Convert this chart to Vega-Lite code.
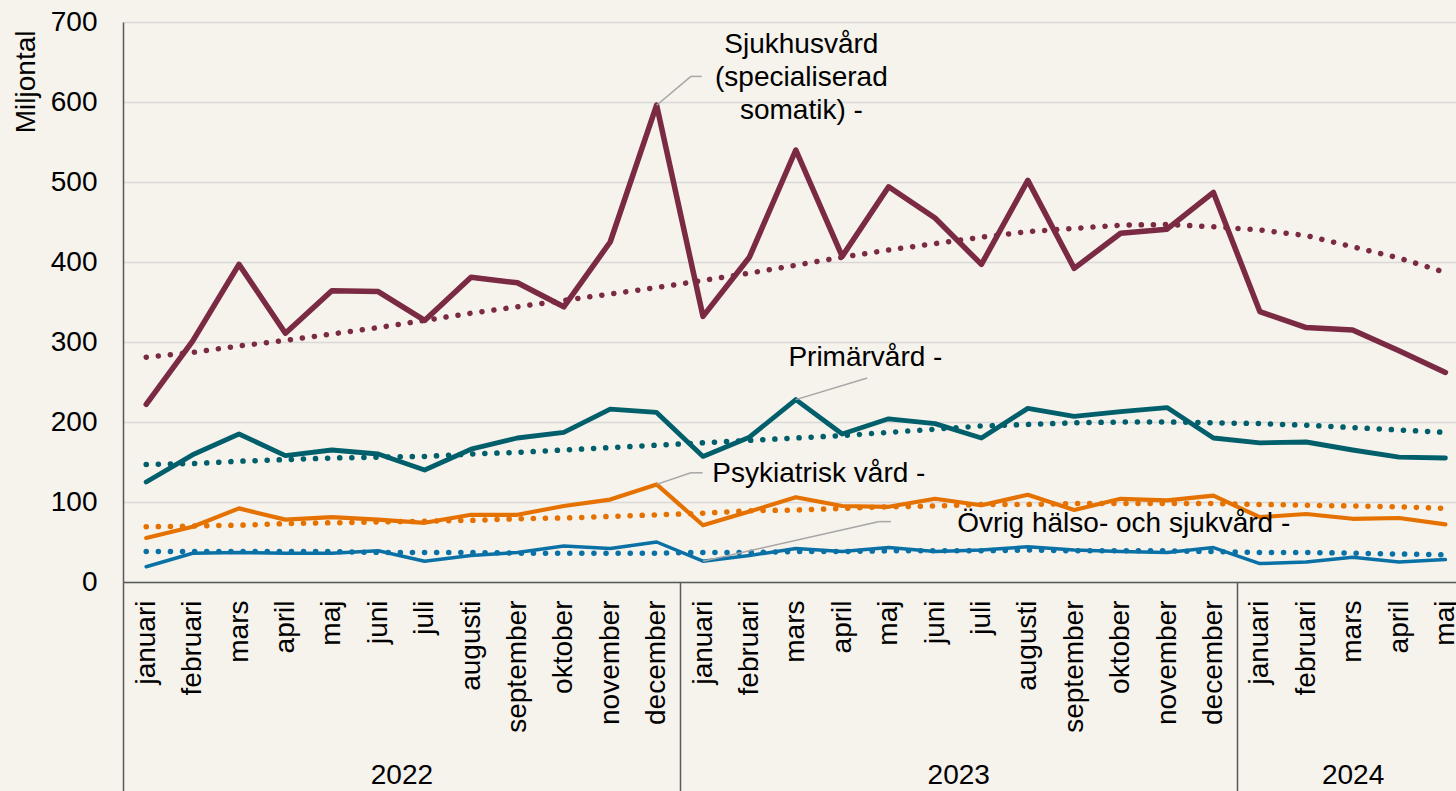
{
  "$schema": "https://vega.github.io/schema/vega-lite/v6.json",
  "autosize": {"type": "none"},
  "padding": {"left": 123, "top": 22, "right": 0, "bottom": 209},
  "width": 1333,
  "height": 560,
  "background": "#F6F2EC",
  "config": {
    "view": {"stroke": null},
    "font": "Liberation Sans",
    "axis": {"labelFont": "Liberation Sans", "titleFont": "Liberation Sans", "labelColor": "#000000", "titleColor": "#000000"}
  },
  "datasets": {
    "manader": [
      {"i": 0, "sjuk": 222, "prim": 125, "psyk": 55, "ovr": 19, "sjukT": 281, "primT": 147, "psykT": 69, "ovrT": 38},
      {"i": 1, "sjuk": 301, "prim": 159, "psyk": 69, "ovr": 36, "sjukT": 287, "primT": 148, "psykT": 70, "ovrT": 38},
      {"i": 2, "sjuk": 397, "prim": 185, "psyk": 92, "ovr": 37, "sjukT": 295, "primT": 151, "psykT": 71, "ovrT": 38},
      {"i": 3, "sjuk": 311, "prim": 158, "psyk": 78, "ovr": 36, "sjukT": 302, "primT": 153, "psykT": 73, "ovrT": 38},
      {"i": 4, "sjuk": 364, "prim": 165, "psyk": 81, "ovr": 36, "sjukT": 310, "primT": 155, "psykT": 74, "ovrT": 38},
      {"i": 5, "sjuk": 363, "prim": 160, "psyk": 78, "ovr": 39, "sjukT": 318, "primT": 156, "psykT": 75, "ovrT": 37},
      {"i": 6, "sjuk": 327, "prim": 140, "psyk": 74, "ovr": 26, "sjukT": 327, "primT": 157, "psykT": 76, "ovrT": 37},
      {"i": 7, "sjuk": 381, "prim": 166, "psyk": 84, "ovr": 33, "sjukT": 336, "primT": 160, "psykT": 77, "ovrT": 37},
      {"i": 8, "sjuk": 374, "prim": 180, "psyk": 84, "ovr": 37, "sjukT": 344, "primT": 162, "psykT": 79, "ovrT": 36},
      {"i": 9, "sjuk": 344, "prim": 187, "psyk": 95, "ovr": 45, "sjukT": 352, "primT": 165, "psykT": 80, "ovrT": 36},
      {"i": 10, "sjuk": 425, "prim": 216, "psyk": 103, "ovr": 42, "sjukT": 360, "primT": 168, "psykT": 82, "ovrT": 36},
      {"i": 11, "sjuk": 596, "prim": 212, "psyk": 122, "ovr": 50, "sjukT": 368, "primT": 171, "psykT": 84, "ovrT": 36},
      {"i": 12, "sjuk": 332, "prim": 157, "psyk": 71, "ovr": 26, "sjukT": 377, "primT": 174, "psykT": 86, "ovrT": 37},
      {"i": 13, "sjuk": 406, "prim": 181, "psyk": 88, "ovr": 33, "sjukT": 386, "primT": 177, "psykT": 89, "ovrT": 37},
      {"i": 14, "sjuk": 540, "prim": 228, "psyk": 106, "ovr": 42, "sjukT": 396, "primT": 180, "psykT": 90, "ovrT": 38},
      {"i": 15, "sjuk": 407, "prim": 185, "psyk": 95, "ovr": 38, "sjukT": 406, "primT": 183, "psykT": 92, "ovrT": 38},
      {"i": 16, "sjuk": 494, "prim": 204, "psyk": 94, "ovr": 43, "sjukT": 415, "primT": 187, "psykT": 94, "ovrT": 39},
      {"i": 17, "sjuk": 455, "prim": 198, "psyk": 104, "ovr": 38, "sjukT": 423, "primT": 191, "psykT": 95, "ovrT": 39},
      {"i": 18, "sjuk": 397, "prim": 180, "psyk": 96, "ovr": 40, "sjukT": 431, "primT": 195, "psykT": 97, "ovrT": 39},
      {"i": 19, "sjuk": 502, "prim": 217, "psyk": 109, "ovr": 44, "sjukT": 438, "primT": 197, "psykT": 97, "ovrT": 40},
      {"i": 20, "sjuk": 392, "prim": 207, "psyk": 90, "ovr": 40, "sjukT": 442, "primT": 199, "psykT": 98, "ovrT": 39},
      {"i": 21, "sjuk": 436, "prim": 213, "psyk": 104, "ovr": 38, "sjukT": 446, "primT": 200, "psykT": 98, "ovrT": 39},
      {"i": 22, "sjuk": 441, "prim": 218, "psyk": 102, "ovr": 37, "sjukT": 447, "primT": 200, "psykT": 98, "ovrT": 39},
      {"i": 23, "sjuk": 487, "prim": 180, "psyk": 108, "ovr": 43, "sjukT": 444, "primT": 199, "psykT": 98, "ovrT": 38},
      {"i": 24, "sjuk": 338, "prim": 174, "psyk": 81, "ovr": 23, "sjukT": 440, "primT": 198, "psykT": 97, "ovrT": 37},
      {"i": 25, "sjuk": 318, "prim": 175, "psyk": 85, "ovr": 25, "sjukT": 433, "primT": 196, "psykT": 96, "ovrT": 37},
      {"i": 26, "sjuk": 315, "prim": 165, "psyk": 79, "ovr": 31, "sjukT": 419, "primT": 193, "psykT": 95, "ovrT": 36},
      {"i": 27, "sjuk": 289, "prim": 156, "psyk": 80, "ovr": 25, "sjukT": 405, "primT": 190, "psykT": 94, "ovrT": 35},
      {"i": 28, "sjuk": 262, "prim": 155, "psyk": 72, "ovr": 28, "sjukT": 387, "primT": 187, "psykT": 92, "ovrT": 34}
    ],
    "etiketterMitt": [
      {"i": 14.12, "v": 671, "text": "Sjukhusvård\n(specialiserad\nsomatik) -"}
    ],
    "etiketterVanster": [
      {"i": 13.84, "v": 280, "text": "Primärvård -"},
      {"i": 12.2, "v": 135, "text": "Psykiatrisk vård -"},
      {"i": 17.48, "v": 72.5, "text": "Övrig hälso- och sjukvård -"}
    ],
    "ledare": [
      {"i": 11, "v": 596, "i2": 11.74, "v2": 632},
      {"i": 11.74, "v": 632, "i2": 11.97, "v2": 632},
      {"i": 14, "v": 228, "i2": 15.54, "v2": 255},
      {"i": 11, "v": 122, "i2": 11.74, "v2": 136.5},
      {"i": 11.74, "v": 136.5, "i2": 11.99, "v2": 136.5},
      {"i": 12, "v": 26, "i2": 15.8, "v2": 75.5},
      {"i": 15.8, "v": 75.5, "i2": 16.05, "v2": 75.5}
    ]
  },
  "resolve": {"axis": {"x": "independent"}},
  "layer": [
    {
      "data": {"name": "manader"},
      "transform": [{"fold": ["sjuk", "prim", "psyk", "ovr"], "as": ["serie", "varde"]}],
      "mark": {"type": "line", "strokeCap": "round", "strokeJoin": "round"},
      "encoding": {
        "x": {
          "field": "i", "type": "quantitative",
          "scale": {"domain": [-0.5, 28.228], "nice": false, "zero": false},
          "axis": {
            "orient": "bottom",
            "values": [0,1,2,3,4,5,6,7,8,9,10,11,12,13,14,15,16,17,18,19,20,21,22,23,24,25,26,27,28],
            "labelExpr": "['januari','februari','mars','april','maj','juni','juli','augusti','september','oktober','november','december'][datum.value % 12]",
            "labelAngle": -90, "labelFontSize": 28, "labelPadding": 18,
            "labelOverlap": false, "labelBound": false, "labelFlush": false,
            "ticks": false, "grid": false, "domain": true,
            "domainColor": "#595959", "domainWidth": 1.5, "title": null
          }
        },
        "y": {
          "field": "varde", "type": "quantitative",
          "scale": {"domain": [0, 700], "nice": false},
          "axis": {
            "values": [0, 100, 200, 300, 400, 500, 600, 700],
            "title": "Miljontal", "titleFontSize": 28, "titleFontWeight": "normal",
            "titleAngle": 270, "titleAlign": "right", "titleBaseline": "middle",
            "titleX": -97, "titleY": 8,
            "labelFontSize": 28, "labelPadding": 26, "labelFlush": false,
            "ticks": false, "grid": true, "gridColor": "#D9D9D9", "gridWidth": 1.5,
            "domain": true, "domainColor": "#595959", "domainWidth": 1.5
          }
        },
        "color": {
          "field": "serie", "type": "nominal",
          "scale": {
            "domain": ["sjuk", "prim", "psyk", "ovr", "sjukT", "primT", "psykT", "ovrT"],
            "range": ["#7A2A42", "#005F6B", "#E57200", "#0A71A6", "#7A2A42", "#005F6B", "#E57200", "#0A71A6"]
          },
          "legend": null
        },
        "strokeWidth": {
          "field": "serie", "type": "ordinal",
          "scale": {"domain": ["sjuk", "prim", "psyk", "ovr"], "range": [5.5, 3.5, 3.5, 3.5]},
          "legend": null
        }
      }
    },
    {
      "data": {"name": "manader"},
      "transform": [{"fold": ["sjukT", "primT", "psykT", "ovrT"], "as": ["serie", "varde"]}],
      "mark": {"type": "line", "strokeDash": [0.1, 12], "strokeCap": "round", "strokeWidth": 5.5},
      "encoding": {
        "x": {
          "field": "i", "type": "quantitative",
          "axis": {
            "orient": "bottom", "values": [-0.5, 11.5, 23.5],
            "labels": false, "ticks": true, "tickSize": 209, "tickColor": "#595959", "tickWidth": 1.5,
            "domain": false, "grid": false, "title": null
          }
        },
        "y": {"field": "varde", "type": "quantitative"},
        "color": {"field": "serie", "type": "nominal", "legend": null}
      }
    },
    {
      "data": {"name": "ledare"},
      "mark": {"type": "rule", "color": "#A6A6A6", "strokeWidth": 1.5},
      "encoding": {
        "x": {"field": "i", "type": "quantitative", "axis": null},
        "y": {"field": "v", "type": "quantitative"},
        "x2": {"field": "i2"},
        "y2": {"field": "v2"}
      }
    },
    {
      "data": {"name": "etiketterVanster"},
      "mark": {"type": "text", "font": "Liberation Sans", "fontSize": 28, "align": "left", "baseline": "middle", "color": "#000000"},
      "encoding": {
        "x": {
          "field": "i", "type": "quantitative",
          "axis": {
            "orient": "bottom", "values": [5.5, 17.5, 26],
            "labelExpr": "datum.value < 12 ? '2022' : (datum.value < 24 ? '2023' : '2024')",
            "labelAngle": 0, "labelFontSize": 28, "labelPadding": 179,
            "labelOverlap": false, "labelBound": false, "labelFlush": false,
            "ticks": false, "domain": false, "grid": false, "title": null
          }
        },
        "y": {"field": "v", "type": "quantitative"},
        "text": {"field": "text"}
      }
    },
    {
      "data": {"name": "etiketterMitt"},
      "mark": {"type": "text", "font": "Liberation Sans", "fontSize": 28, "align": "center", "baseline": "middle", "lineBreak": "\n", "lineHeight": 33, "color": "#000000"},
      "encoding": {
        "x": {"field": "i", "type": "quantitative", "axis": null},
        "y": {"field": "v", "type": "quantitative"},
        "text": {"field": "text"}
      }
    }
  ]
}
